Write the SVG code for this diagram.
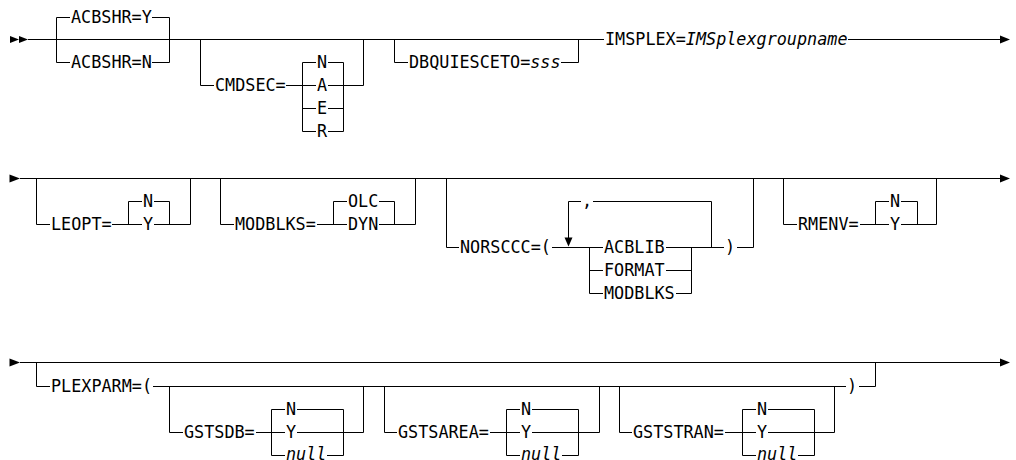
<svg xmlns="http://www.w3.org/2000/svg" width="1016" height="460" viewBox="0 0 1016 460">
<style>
.t{font-family:"DejaVu Sans Mono","Liberation Mono",monospace;font-size:16.8px;fill:#000}
.i{font-style:italic}
.c{fill:none;stroke:#000;stroke-width:1}
.a{fill:#000;stroke:none}
</style>
<rect width="1016" height="460" fill="#fff"/>
<g id="connectors">
<!-- row 1 -->
<path class="c" d="M28,39.5 H604 M848,39.5 H1000"/>
<path class="c" d="M56.5,17.5 V62.5 M169.5,17.5 V62.5 M56.5,17.5 H70 M152,17.5 H169.5 M56.5,62.5 H70 M152,62.5 H169.5"/>
<path class="c" d="M200.5,39.5 V85.5 H214 M286,85.5 H316 M302.5,62.5 V131.5 M343.5,62.5 V131.5 M302.5,62.5 H316 M328,62.5 H343.5 M328,85.5 H363.5 V39.5 M302.5,108.5 H316 M328,108.5 H343.5 M302.5,131.5 H316 M328,131.5 H343.5"/>
<path class="c" d="M394.5,39.5 V62.5 H408 M561,62.5 H578.5 V39.5"/>
<polygon class="a" points="10,36 19,39.5 10,43"/>
<polygon class="a" points="19,36 28,39.5 19,43"/>
<polygon class="a" points="1000,35.5 1010,39.5 1000,43.5"/>
<!-- row 2 -->
<path class="c" d="M20,178.5 H1000"/>
<polygon class="a" points="9.5,174.5 20,178.5 9.5,182.5"/>
<polygon class="a" points="1000,174.5 1010,178.5 1000,182.5"/>
<path class="c" d="M36.5,178.5 V224.5 H50 M112,224.5 H142 M128.5,201.5 V224.5 M169.5,201.5 V224.5 M128.5,201.5 H142 M154,201.5 H169.5 M154,224.5 H190.5 V178.5"/>
<path class="c" d="M220.5,178.5 V224.5 H234 M317,224.5 H347 M333.5,201.5 V224.5 M394.5,201.5 V224.5 M333.5,201.5 H347 M379,201.5 H394.5 M379,224.5 H415.5 V178.5"/>
<path class="c" d="M446.5,178.5 V247.5 H459 M552,247.5 H603 M589.5,247.5 V293.5 M691.5,247.5 V293.5 M589.5,270.5 H603 M589.5,293.5 H603 M666,270.5 H691.5 M676,293.5 H691.5 M666,247.5 H724 M737,247.5 H753.5 V178.5"/>
<path class="c" d="M711.5,247.5 V201.5 H593 M581,201.5 H568.5 V238"/>
<polygon class="a" points="564.5,237.5 572.5,237.5 568.5,246.5"/>
<path class="c" d="M783.5,178.5 V224.5 H797 M860,224.5 H889 M875.5,201.5 V224.5 M917.5,201.5 V224.5 M875.5,201.5 H889 M901,201.5 H917.5 M901,224.5 H936.5 V178.5"/>
<!-- row 3 -->
<path class="c" d="M20,362.5 H1000"/>
<polygon class="a" points="9.5,358.5 20,362.5 9.5,366.5"/>
<polygon class="a" points="1000,358.5 1010,362.5 1000,366.5"/>
<path class="c" d="M36.5,362.5 V386.5 H50 M153,386.5 H846 M859,386.5 H875.5 V362.5"/>
<path class="c" d="M169.5,386.5 V432.5 H183 M256,432.5 H285 M271.5,409.5 V455.5 M343.5,409.5 V455.5 M271.5,409.5 H285 M297,409.5 H343.5 M297,432.5 H363.5 V386.5 M271.5,455.5 H285 M327,455.5 H343.5"/>
<path class="c" d="M384.5,386.5 V432.5 H397 M490,432.5 H520 M506.5,409.5 V455.5 M578.5,409.5 V455.5 M506.5,409.5 H520 M532,409.5 H578.5 M532,432.5 H599.5 V386.5 M506.5,455.5 H520 M562,455.5 H578.5"/>
<path class="c" d="M619.5,386.5 V432.5 H632 M725,432.5 H756 M742.5,409.5 V455.5 M814.5,409.5 V455.5 M742.5,409.5 H756 M768,409.5 H814.5 M768,432.5 H834.5 V386.5 M742.5,455.5 H756 M798,455.5 H814.5"/>
</g>
<g id="acbshr">
<text class="t" x="71" y="22.5">ACBSHR=Y</text>
<text class="t" x="71" y="67.5">ACBSHR=N</text>
</g>
<g id="cmdsec">
<text class="t" x="215" y="90.5">CMDSEC=</text>
<text class="t" x="317" y="67.5">N</text>
<text class="t" x="317" y="90.5">A</text>
<text class="t" x="317" y="113.5">E</text>
<text class="t" x="317" y="136.5">R</text>
</g>
<g id="dbquiesceto">
<text class="t" x="409" y="67.5">DBQUIESCETO=<tspan class="i">sss</tspan></text>
</g>
<g id="imsplex">
<text class="t" x="605" y="44.5">IMSPLEX=<tspan class="i">IMSplexgroupname</tspan></text>
</g>
<g id="leopt">
<text class="t" x="51" y="229.5">LEOPT=</text>
<text class="t" x="143" y="206.5">N</text>
<text class="t" x="143" y="229.5">Y</text>
</g>
<g id="modblks">
<text class="t" x="235" y="229.5">MODBLKS=</text>
<text class="t" x="348" y="206.5">OLC</text>
<text class="t" x="348" y="229.5">DYN</text>
</g>
<g id="norsccc">
<text class="t" x="460" y="252.5">NORSCCC=(</text>
<text class="t" x="582" y="206.5">,</text>
<text class="t" x="604" y="252.5">ACBLIB</text>
<text class="t" x="604" y="275.5">FORMAT</text>
<text class="t" x="604" y="298.5">MODBLKS</text>
<text class="t" x="725" y="252.5">)</text>
</g>
<g id="rmenv">
<text class="t" x="798" y="229.5">RMENV=</text>
<text class="t" x="890" y="206.5">N</text>
<text class="t" x="890" y="229.5">Y</text>
</g>
<g id="plexparm">
<text class="t" x="51" y="391.5">PLEXPARM=(</text>
<text class="t" x="847" y="391.5">)</text>
</g>
<g id="gstsdb">
<text class="t" x="184" y="437.5">GSTSDB=</text>
<text class="t" x="286" y="414.5">N</text>
<text class="t" x="286" y="437.5">Y</text>
<text class="t i" x="286" y="459.5">null</text>
</g>
<g id="gstsarea">
<text class="t" x="398" y="437.5">GSTSAREA=</text>
<text class="t" x="521" y="414.5">N</text>
<text class="t" x="521" y="437.5">Y</text>
<text class="t i" x="521" y="459.5">null</text>
</g>
<g id="gststran">
<text class="t" x="633" y="437.5">GSTSTRAN=</text>
<text class="t" x="757" y="414.5">N</text>
<text class="t" x="757" y="437.5">Y</text>
<text class="t i" x="757" y="459.5">null</text>
</g>
</svg>
